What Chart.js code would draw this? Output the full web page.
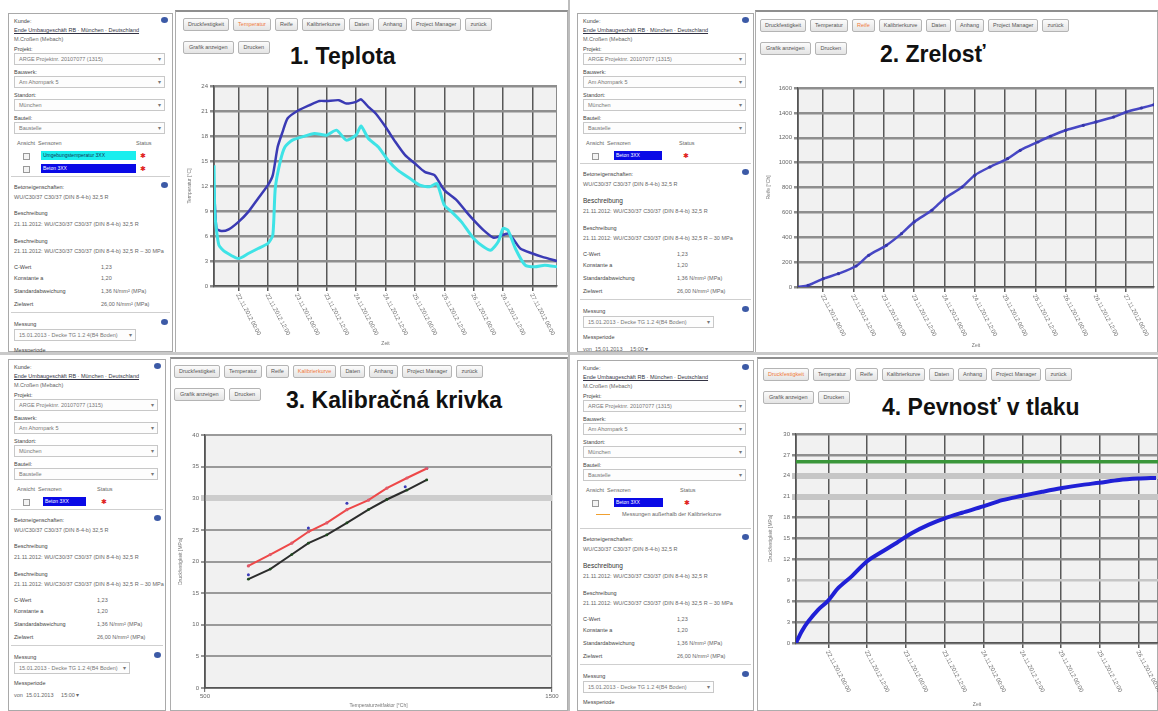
<!DOCTYPE html>
<html lang="de">
<head>
<meta charset="utf-8">
<title>Betonüberwachung</title>
<script src="https://cdn.jsdelivr.net/npm/chart.js@4.4.1/dist/chart.umd.min.js"></script>
<style>
  body { margin:0; width:1158px; height:711px; overflow:hidden; background:#fff; position:relative;
         font-family:"Liberation Sans", Arial, sans-serif; }
  .side { position:absolute; border:1px solid #a9a9a9; box-sizing:border-box; background:#fff; }
  .main { position:absolute; border:1px solid #adadad; border-top:2px solid #8f8f8f; box-sizing:border-box; background:#fff; }
  .ln { position:absolute; left:5px; font-size:5.5px; color:#666; white-space:nowrap; line-height:7px; }
  .ln.lab { color:#444; }
  .ln.lnk { color:#334; text-decoration:underline; }
  .ln.big { font-size:6.5px; color:#333; }
  .sel { position:absolute; left:5px; right:7px; height:10px; border:1px solid #c8c8c8; font-size:5.5px; line-height:10px;
         padding-left:4px; color:#777; background:#fdfdfd; white-space:nowrap; overflow:hidden; }
  .sel span { position:absolute; right:3px; top:0; color:#777; }
  .rule { position:absolute; left:2px; right:2px; border-top:1px solid #cfcfcf; }
  .ico { position:absolute; right:4px; width:7px; height:6px; border-radius:50%; background:#3c5aa6; }
  .chk { position:absolute; width:5px; height:5px; border:1px solid #999; background:#f4f4f4; }
  .sens { position:absolute; height:9px; font-size:5px; line-height:9px; padding-left:2px; white-space:nowrap; overflow:hidden; box-sizing:border-box; }
  .stat { position:absolute; color:#e02020; font-size:7px; line-height:9px; }
  .tabs { position:absolute; white-space:nowrap; }
  .btn { display:inline-block; border:1px solid #b4b4b4; border-radius:2px; background:linear-gradient(#fbfbfb,#e4e4e4);
         font-size:5.5px; color:#555; height:11px; line-height:11px; padding:0 4px; margin-right:4px; vertical-align:top; }
  .btn.on { color:#f07a3c; }
  .title { position:absolute; font-weight:bold; font-size:23px; line-height:1; color:#111; white-space:nowrap; }
  .cbox { position:absolute; }
</style>
</head>
<body>
<script>
// Temperatur (1. Teplota) – Stunden ab 21.11.2012 14:00
const betonHours = [0, 1, 3, 6, 10, 14, 18, 22, 24, 26, 28, 30, 34, 39, 43, 46, 51, 54, 58, 60,
  63, 66, 70, 74, 78, 82, 86, 90, 94, 99, 103, 106, 110, 114, 116, 120, 122, 125, 130, 134, 140];
const betonTemp = [12.1, 6.9, 6.6, 6.8, 7.7, 8.9, 10.5, 12.1, 13.3, 16.7, 18.5, 20.1, 21.0, 21.7, 22.2, 22.2, 22.3, 21.9, 22.1, 22.4,
  21.5, 20.7, 19.1, 17.3, 15.7, 14.7, 13.7, 13.3, 11.5, 10.3, 8.9, 7.9, 6.7, 5.8, 5.9, 6.3, 5.7, 4.5, 3.9, 3.5, 3.0];
const luftHours = [0, 0.4, 2, 4.5, 10, 14, 18, 22, 24, 25, 27, 29, 32, 36, 41, 46, 50, 54, 58, 60,
  63, 67, 71, 75, 80, 84, 88, 91, 94, 97, 101, 106, 110, 113, 116, 118, 120, 123, 127, 131, 135, 140];
const luftTemp = [14.5, 8.5, 4.9, 4.1, 3.3, 3.9, 4.5, 5.1, 6.1, 11.7, 14.9, 16.7, 17.5, 17.9, 18.3, 18.1, 18.7, 17.5, 18.1, 19.2,
  17.7, 16.7, 15.1, 13.9, 12.9, 12.1, 11.9, 12.3, 9.7, 8.9, 7.7, 5.7, 4.7, 4.3, 5.3, 6.9, 6.7, 4.5, 2.5, 2.3, 2.5, 2.3];

// Reife (2. Zrelosť)
const reifeHours = [0, 4, 10, 16, 23, 28, 35, 41, 46, 53, 58, 65, 70, 76, 83, 88, 95, 100, 106, 113, 118, 125, 130, 136, 141];
const reifeValues = [0, 13, 67, 107, 169, 255, 335, 429, 523, 617, 710, 804, 898, 965, 1032, 1099, 1166, 1212, 1260, 1300,
  1327, 1367, 1407, 1439, 1466];

// Kalibrierkurve (3. Kalibračná krivka)
const kalibReife = [625, 688, 750, 798, 851, 909, 971, 1024, 1082, 1139];
const kalibOben = [19.3, 21.1, 22.9, 24.7, 26.1, 28.2, 29.7, 31.6, 33.2, 34.7];
const kalibUnten = [17.2, 18.8, 21.1, 22.9, 24.2, 26.1, 28.2, 29.8, 31.3, 32.9];
const messReife = [625, 798, 909, 1077, 1139];
const messDruck = [17.9, 25.3, 29.2, 31.8, 34.7];
const kalibTicks = [500, 1500];

// Druckfestigkeit (4. Pevnosť v tlaku)
const druckHours = [0, 1.8, 3.8, 6.9, 9.8, 13.1, 17.3, 21.9, 26.6, 31.2, 35.9, 41.1, 46, 51.4, 57.9, 63.8, 69.7, 76.2, 81.9, 88.6,
  93.8, 100, 105.9, 111.4];
const druckValues = [0, 1.7, 3.1, 4.8, 6.0, 7.9, 9.6, 11.7, 13.1, 14.4, 15.8, 17.0, 17.9, 18.7, 19.6, 20.5, 21.1, 21.7, 22.2, 22.7,
  23.0, 23.4, 23.6, 23.7];
const zielFestigkeit = 26;

// Zeitachse
const timeTicks = [10, 22, 34, 46, 58, 70, 82, 94, 106, 118, 130];
const timeTickLabels = ['22.11.2012 00:00', '22.11.2012 12:00', '23.11.2012 00:00', '23.11.2012 12:00', '24.11.2012 00:00',
  '24.11.2012 12:00', '25.11.2012 00:00', '25.11.2012 12:00', '26.11.2012 00:00', '26.11.2012 12:00', '27.11.2012 00:00'];
const druckTicks = [10, 22, 34, 46, 58, 70, 82, 94, 106];

const tabLabels = ['Druckfestigkeit', 'Temperatur', 'Reife', 'Kalibrierkurve', 'Daten', 'Anhang', 'Project Manager', 'zurück'];

function el(parent, tag, cls, css, html) {
  const e = document.createElement(tag);
  if (cls) e.className = cls;
  if (css) e.style.cssText = css;
  if (html) e.innerHTML = html;
  parent.appendChild(e);
  return e;
}

// linke Seitenleiste
function buildSide(q) {
  const [x, y, w, h] = q.side;
  const d = el(document.body, 'div', 'side', `left:${x}px;top:${y}px;width:${w}px;height:${h}px`);
  const line = (top, text, cls, left) => el(d, 'div', 'ln ' + (cls || ''), `top:${top}px` + (left ? `;left:${left}px` : ''), text);
  const select = (top, text, right) => el(d, 'div', 'sel', `top:${top}px` + (right ? `;right:${right}px` : ''), text + '<span>▾</span>');
  const rule = top => el(d, 'div', 'rule', `top:${top}px`);
  const icon = top => el(d, 'div', 'ico', `top:${top}px`);

  icon(3);
  line(4, 'Kunde:', 'lab');
  line(13, 'Ende Umbaugeschäft RB · München · Deutschland', 'lnk');
  line(22, 'M.Croßen (Mebach)');
  line(32, 'Projekt:', 'lab'); select(39, 'ARGE Projektnr. 20107077 (1315)');
  line(55, 'Bauwerk:', 'lab'); select(62, 'Am Ahornpark 5');
  line(78, 'Standort:', 'lab'); select(85, 'München');
  line(101, 'Bauteil:', 'lab'); select(108, 'Baustelle');
  line(126, 'Ansicht&nbsp; Sensoren', '', 8);
  line(126, 'Status', '', q.statX - 4);
  let t = 137;
  q.sensors.forEach(s => {
    el(d, 'div', 'chk', `left:14px;top:${t + 2}px`);
    el(d, 'div', 'sens', `left:${q.sensX}px;top:${t}px;width:${q.sensW}px;background:${s[1]};color:${s[2]}`, s[0]);
    el(d, 'div', 'stat', `left:${q.statX}px;top:${t}px`, '✱');
    t += 13;
  });
  if (q.legend) {
    el(d, 'div', 'rule', `top:${t + 3}px;left:18px;right:auto;width:14px;border-top:1.5px solid #f0a030`);
    line(t, 'Messungen außerhalb der Kalibrierkurve', '', 44);
    t += 18;
  }
  const r = t - 1;
  rule(r);
  icon(r + 6);
  line(r + 8, 'Betoneigenschaften:', 'lab');
  line(r + 18, 'WU/C30/37 C30/37 (DIN 8-4-b) 32,5 R');
  line(r + 34, 'Beschreibung', q.boldDesc ? 'big' : 'lab');
  line(r + 45, '21.11.2012: WU/C30/37 C30/37 (DIN 8-4-b) 32,5 R');
  line(r + 62, 'Beschreibung', 'lab');
  line(r + 72, '21.11.2012: WU/C30/37 C30/37 (DIN 8-4-b) 32,5 R – 30 MPa');
  const vx = Math.round(w * 0.56);
  line(r + 88, 'C-Wert', 'lab'); line(r + 88, '1,23', '', vx);
  line(r + 99, 'Konstante a', 'lab'); line(r + 99, '1,20', '', vx);
  line(r + 112, 'Standardabweichung', 'lab'); line(r + 112, '1,36 N/mm² (MPa)', '', vx);
  line(r + 125, 'Zielwert', 'lab'); line(r + 125, '26,00 N/mm² (MPa)', '', vx);
  rule(r + 136);
  icon(r + 143);
  line(r + 145, 'Messung', 'lab');
  select(r + 153, '15.01.2013 - Decke TG 1.2 4(B4 Boden)', Math.round(w * 0.22));
  line(r + 171, 'Messperiode', 'lab');
  line(r + 183, 'von&nbsp; 15.01.2013 &nbsp;&nbsp;&nbsp; 15:00 ▾');
}

// rechter Hauptbereich mit Reitern und Überschrift
function buildMain(q) {
  const [x, y, w, h] = q.main;
  const m = el(document.body, 'div', 'main', `left:${x}px;top:${y}px;width:${w}px;height:${h}px`);
  const row1 = el(m, 'div', 'tabs', `left:${q.tabsAt[0]}px;top:${q.tabsAt[1]}px`);
  tabLabels.forEach((t, i) => el(row1, 'span', 'btn' + (i === q.active ? ' on' : ''), '', t));
  const row2 = el(m, 'div', 'tabs', `left:${q.tabsAt[0]}px;top:${q.tabsAt[1] + 23}px`);
  el(row2, 'span', 'btn', 'padding:0 5px', 'Grafik anzeigen');
  el(row2, 'span', 'btn', 'padding:0 5px', 'Drucken');
  el(document.body, 'div', 'title', `left:${q.title[1]}px;top:${q.title[2]}px`, q.title[0]);
}

const quads = [
  { side: [8, 13, 165, 339], main: [175, 10, 393, 343], tabsAt: [7, 6], active: 1, title: ['1. Teplota', 290, 45],
    sensors: [['Umgebungstemperatur 3XX', '#1aeeee', '#135'], ['Beton 3XX', '#0a0ae6', '#fff']], sensX: 32, sensW: 95, statX: 131 },
  { side: [577, 13, 177, 339], main: [755, 10, 403, 343], tabsAt: [4, 7], active: 2, title: ['2. Zrelosť', 880, 43],
    sensors: [['Beton 3XX', '#0a0ae6', '#fff']], sensX: 36, sensW: 48, statX: 105, boldDesc: true },
  { side: [8, 359, 158, 352], main: [170, 357, 398, 354], tabsAt: [3, 6], active: 3, title: ['3. Kalibračná krivka', 286, 389],
    sensors: [['Beton 3XX', '#0a0ae6', '#fff']], sensX: 34, sensW: 43, statX: 92 },
  { side: [577, 360, 177, 351], main: [757, 357, 401, 354], tabsAt: [5, 9], active: 0, title: ['4. Pevnosť v tlaku', 882, 396],
    sensors: [['Beton 3XX', '#0a0ae6', '#fff']], sensX: 36, sensW: 49, statX: 106, legend: true, boldDesc: true }
];
quads.forEach(q => { buildSide(q); buildMain(q); });
el(document.body, 'div', '', 'position:absolute;left:0;top:352px;width:1158px;height:3px;background:#c9c9c9');
el(document.body, 'div', '', 'position:absolute;left:568px;top:0;width:2px;height:711px;background:#bdbdbd');

function chartBox(x, y, w, h) {
  const d = el(document.body, 'div', 'cbox', `left:${x}px;top:${y}px;width:${w}px;height:${h}px`);
  return el(d, 'canvas');
}

// Hintergrund der Zeichenfläche
const plotBg = {
  id: 'plotBg',
  beforeDraw(chart) {
    const { ctx, chartArea: a } = chart;
    ctx.save();
    ctx.fillStyle = '#f1f1f1';
    ctx.fillRect(a.left, a.top, a.width, a.height);
    ctx.strokeStyle = '#8a8a8a';
    ctx.lineWidth = 1;
    ctx.strokeRect(a.left + 0.5, a.top + 0.5, a.width - 1, a.height - 1);
    ctx.restore();
  }
};

// schräge Datumsbeschriftung unter der Zeitachse
const slantLabels = {
  id: 'slantLabels',
  afterDraw(chart, args, opts) {
    if (!opts.labels) return;
    const x = chart.scales.x, ctx = chart.ctx;
    ctx.save();
    ctx.font = '6px "Liberation Sans", Arial';
    ctx.fillStyle = '#707070';
    ctx.textAlign = 'left';
    ctx.textBaseline = 'middle';
    x.ticks.forEach((t, i) => {
      ctx.save();
      ctx.translate(x.getPixelForValue(t.value) - 1, x.top + 8);
      ctx.rotate(62 * Math.PI / 180);
      ctx.fillText(opts.labels[i] || '', 0, 0);
      ctx.restore();
    });
    ctx.restore();
  }
};

const pts = (xs, ys) => xs.map((v, i) => ({ x: v, y: ys[i] }));
const plain = v => String(v);

function timeAxis(max, ticks, height) {
  return {
    type: 'linear', min: 0, max,
    afterBuildTicks: s => { s.ticks = ticks.map(v => ({ value: v })); },
    afterFit: s => { s.height = height; },
    ticks: { display: false },
    grid: { color: '#585858', lineWidth: 1.5, tickLength: 5 },
    border: { color: '#555', width: 1.5 },
    title: { display: true, text: 'Zeit', font: { size: 5 }, color: '#777', padding: { top: 0, bottom: 3 } }
  };
}

function valueAxis(min, max, step, title, width, grid) {
  return {
    min, max,
    afterFit: s => { s.width = width; },
    ticks: { stepSize: step, font: { size: 6 }, color: '#666', padding: 2, callback: plain },
    grid: Object.assign({ color: '#8e8e8e', lineWidth: 2.5, tickLength: 4 }, grid || {}),
    border: { color: '#555', width: 1.5 },
    title: { display: true, text: title, font: { size: 5 }, color: '#777', padding: 0 }
  };
}

function baseOptions(padding, scales, labels) {
  return {
    responsive: true,
    maintainAspectRatio: false,
    animation: false,
    layout: { padding },
    plugins: { legend: { display: false }, tooltip: { enabled: false }, slantLabels: { labels } },
    scales
  };
}

// 1. Teplota
new Chart(chartBox(175, 80, 392, 270), {
  type: 'line',
  data: {
    datasets: [
      { label: 'Umgebungstemperatur', data: pts(luftHours, luftTemp), borderColor: '#3ee3e6', borderWidth: 3, pointRadius: 0, tension: 0.2 },
      { label: 'Beton', data: pts(betonHours, betonTemp), borderColor: '#3a3ab4', borderWidth: 2.5, pointRadius: 0, tension: 0.2 }
    ]
  },
  options: baseOptions({ left: 12, top: 6, right: 10, bottom: 0 }, {
    x: timeAxis(140, timeTicks, 64),
    y: valueAxis(0, 24, 3, 'Temperatur [°C]', 27)
  }, timeTickLabels),
  plugins: [plotBg, slantLabels]
});

// 2. Zrelosť
new Chart(chartBox(757, 80, 401, 272), {
  type: 'line',
  data: {
    datasets: [
      { label: 'Reife', data: pts(reifeHours, reifeValues), borderColor: '#4747c4', borderWidth: 2.5,
        pointRadius: 1.6, pointBackgroundColor: '#3535a8', pointBorderWidth: 0, tension: 0.3 }
    ]
  },
  options: baseOptions({ left: 9, top: 8, right: 0, bottom: 0 }, {
    x: timeAxis(141, timeTicks, 65),
    y: valueAxis(0, 1600, 200, 'Reife [°Ch]', 32)
  }, timeTickLabels),
  plugins: [plotBg, slantLabels]
});

// 3. Kalibračná krivka
new Chart(chartBox(170, 425, 398, 286), {
  type: 'line',
  data: {
    datasets: [
      { label: 'Kalibrierkurve', data: pts(kalibReife, kalibOben), borderColor: '#ee4848', borderWidth: 2,
        pointRadius: 1.6, pointBackgroundColor: '#e05a6a', pointBorderWidth: 0 },
      { label: 'untere Grenze', data: pts(kalibReife, kalibUnten), borderColor: '#2c2c2c', borderWidth: 2,
        pointRadius: 1.4, pointBackgroundColor: '#1e4a1e', pointBorderWidth: 0 },
      { label: 'Messungen', data: pts(messReife, messDruck), showLine: false, pointRadius: 1.5,
        pointBackgroundColor: '#3b3bb8', pointBorderWidth: 0 }
    ]
  },
  options: baseOptions({ left: 8, top: 10, right: 16, bottom: 0 }, {
    x: {
      type: 'linear', min: 500, max: 1500,
      afterBuildTicks: s => { s.ticks = kalibTicks.map(v => ({ value: v })); },
      afterFit: s => { s.height = 23; },
      ticks: { font: { size: 6 }, color: '#666', maxRotation: 0, padding: 1, callback: plain },
      grid: { color: '#7a7a7a', lineWidth: 1.2, tickLength: 4 },
      border: { color: '#555', width: 1.5 },
      title: { display: true, text: 'Temperaturzeitfaktor [°Ch]', font: { size: 5 }, color: '#777', padding: { top: 0, bottom: 2 } }
    },
    y: valueAxis(0, 40, 5, 'Druckfestigkeit [MPa]', 27, {
      color: c => (c.tick && c.tick.value === 30 ? '#cdcdcd' : '#9a9a9a'),
      lineWidth: c => (c.tick && c.tick.value === 30 ? 6 : 2)
    })
  }, null),
  plugins: [plotBg]
});

// 4. Pevnosť v tlaku
new Chart(chartBox(757, 425, 401, 286), {
  type: 'line',
  data: {
    datasets: [
      { label: 'Zielwert', data: [{ x: 0, y: zielFestigkeit }, { x: 112, y: zielFestigkeit }], borderColor: '#3a963a',
        borderWidth: 3.5, pointRadius: 0 },
      { label: 'Druckfestigkeit', data: pts(druckHours, druckValues), borderColor: '#2020d6', borderWidth: 4,
        pointRadius: 0, tension: 0.3 }
    ]
  },
  options: baseOptions({ left: 11, top: 9, right: 0, bottom: 0 }, {
    x: timeAxis(112, druckTicks, 68),
    y: valueAxis(0, 30, 3, 'Druckfestigkeit [MPa]', 28, {
      color: c => (c.tick && (c.tick.value === 24 || c.tick.value === 21 || c.tick.value === 9) ? '#c6c6c6' : '#8e8e8e'),
      lineWidth: c => (c.tick && (c.tick.value === 24 || c.tick.value === 21) ? 6 : 2.5)
    })
  }, timeTickLabels),
  plugins: [plotBg, slantLabels]
});
</script>
</body>
</html>
